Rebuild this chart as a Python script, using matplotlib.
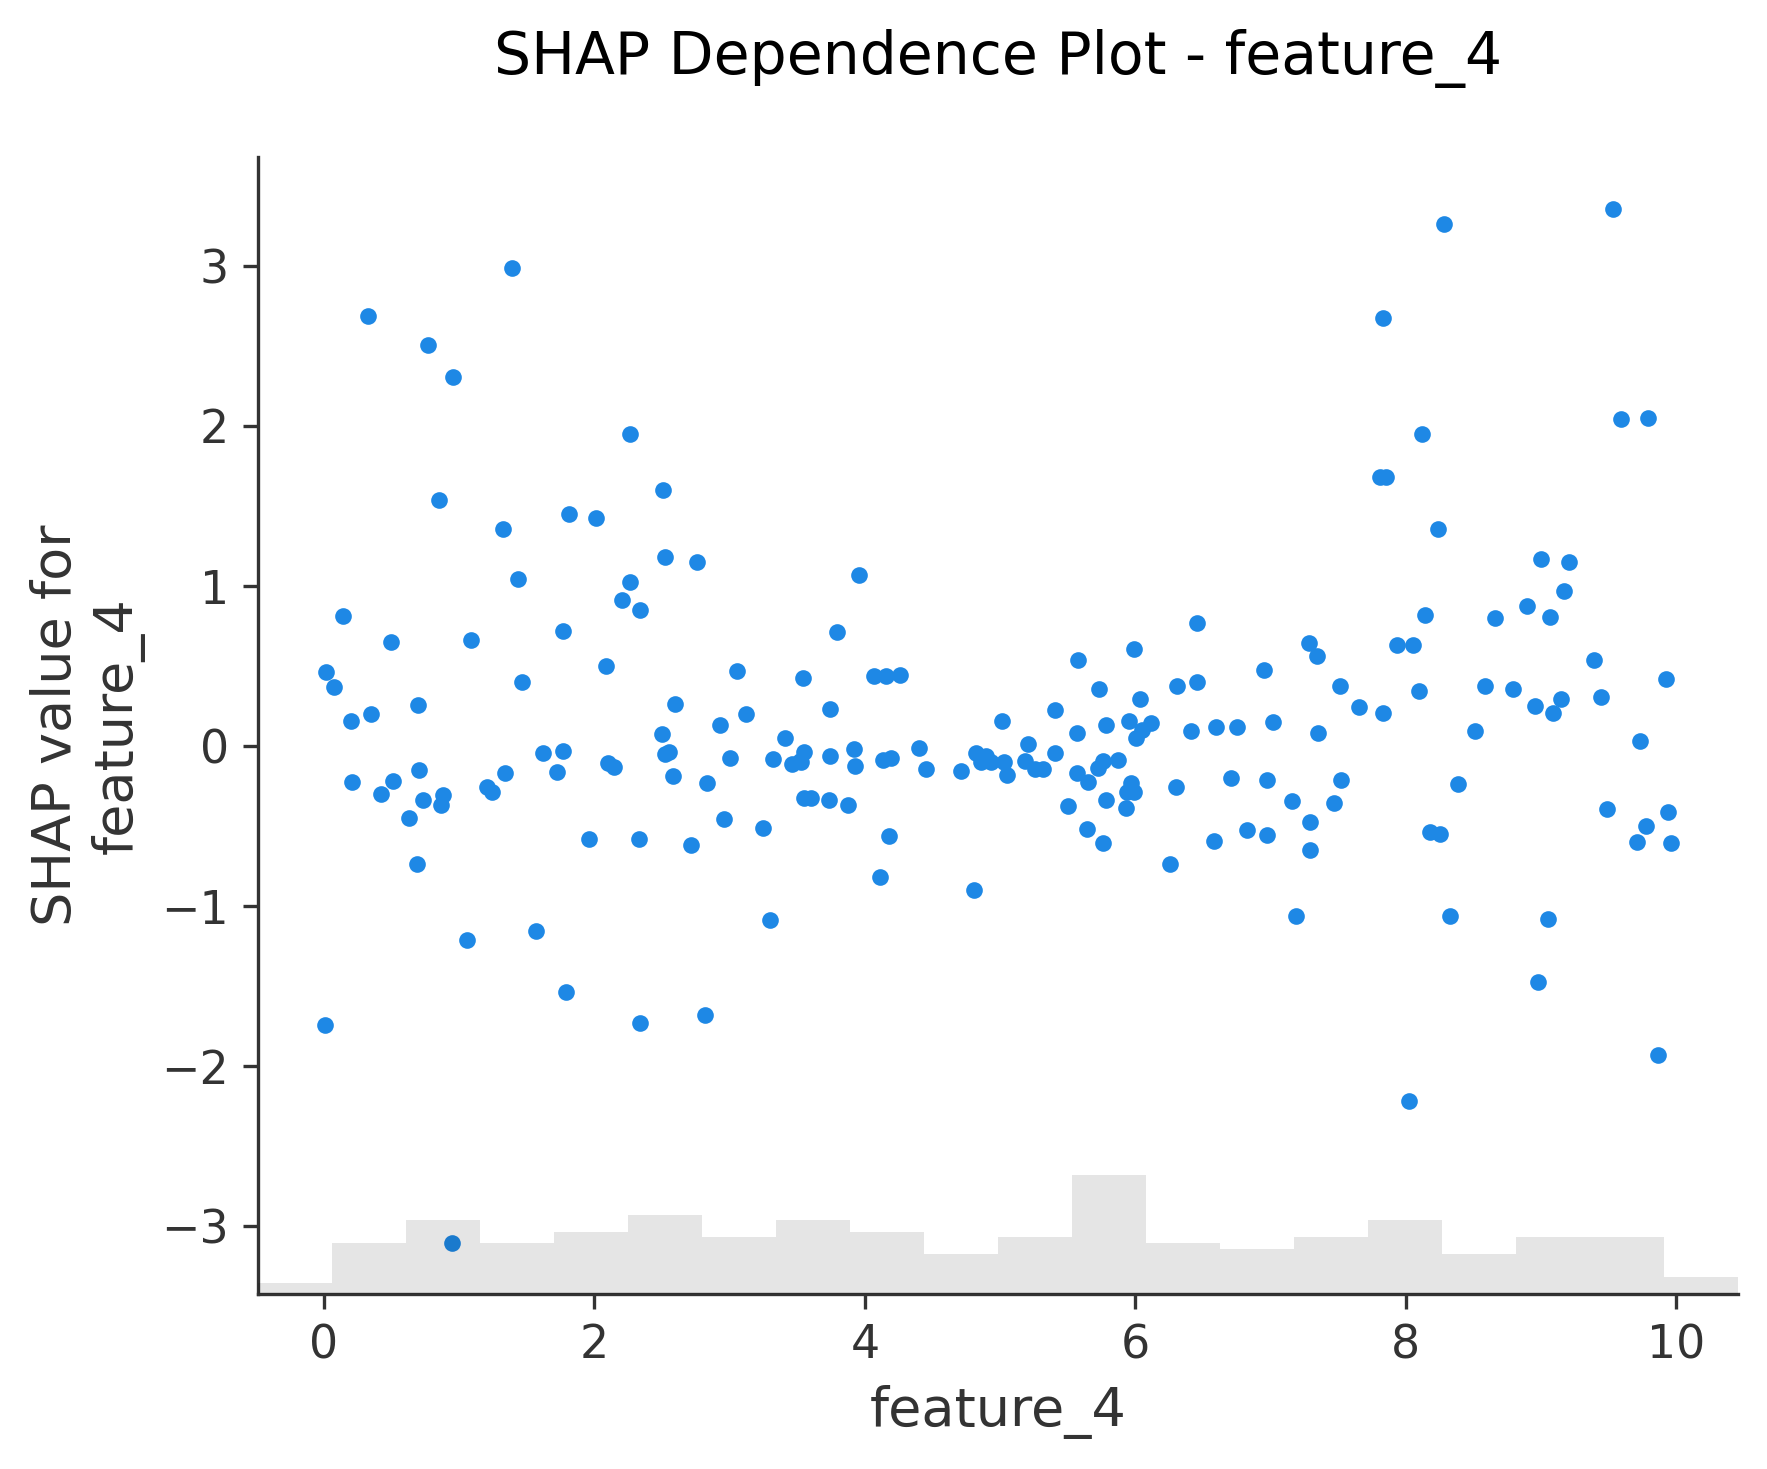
import numpy as np
import matplotlib
matplotlib.use("Agg")
import matplotlib.pyplot as plt

feature_name = "feature_4"

feature_values = [
    0.010, 0.017, 0.075, 0.143, 0.202, 0.209, 0.328, 0.350, 0.424, 0.498,
    0.513, 0.630, 0.690, 0.698, 0.705, 0.735, 0.772, 0.853, 0.868, 0.883,
    0.949, 0.957, 1.060, 1.090, 1.206, 1.240, 1.326, 1.340, 1.393, 1.437,
    1.467, 1.570, 1.617, 1.720, 1.770, 1.770, 1.790, 1.815, 1.961, 2.014,
    2.088, 2.103, 2.143, 2.207, 2.266, 2.266, 2.332, 2.340, 2.340, 2.498,
    2.510, 2.520, 2.525, 2.554, 2.584, 2.598, 2.717, 2.761, 2.815, 2.835,
    2.929, 2.961, 3.000, 3.057, 3.124, 3.250, 3.298, 3.323, 3.412, 3.459,
    3.520, 3.526, 3.545, 3.550, 3.553, 3.600, 3.737, 3.745, 3.745, 3.797,
    3.875, 3.920, 3.930, 3.959, 4.068, 4.115, 4.137, 4.159, 4.180, 4.192,
    4.263, 4.403, 4.450, 4.714, 4.810, 4.818, 4.858, 4.895, 4.932, 5.010,
    5.025, 5.054, 5.187, 5.207, 5.254, 5.320, 5.402, 5.409, 5.505, 5.565,
    5.565, 5.579, 5.639, 5.646, 5.720, 5.734, 5.757, 5.764, 5.779, 5.779,
    5.873, 5.934, 5.936, 5.956, 5.964, 5.986, 5.993, 6.006, 6.036, 6.048,
    6.112, 6.253, 6.297, 6.311, 6.408, 6.452, 6.452, 6.578, 6.593, 6.704,
    6.748, 6.822, 6.948, 6.970, 6.970, 7.015, 7.160, 7.190, 7.280, 7.288,
    7.288, 7.339, 7.347, 7.465, 7.510, 7.517, 7.650, 7.806, 7.828, 7.828,
    7.855, 7.931, 8.020, 8.050, 8.094, 8.116, 8.138, 8.176, 8.234, 8.250,
    8.280, 8.323, 8.382, 8.508, 8.582, 8.656, 8.790, 8.893, 8.957, 8.974,
    8.996, 9.048, 9.063, 9.085, 9.144, 9.167, 9.204, 9.388, 9.440, 9.484,
    9.529, 9.588, 9.706, 9.728, 9.773, 9.788, 9.862, 9.925, 9.936, 9.958,
]

shap_values = [
    -1.744, 0.463, 0.369, 0.813, 0.156, -0.225, 2.688, 0.200, -0.300, 0.650,
    -0.219, -0.450, -0.738, 0.256, -0.150, -0.338, 2.506, 1.538, -0.369, -0.303,
    -3.100, 2.306, -1.213, 0.663, -0.253, -0.288, 1.356, -0.169, 2.988, 1.044,
    0.400, -1.156, -0.044, -0.163, 0.719, -0.031, -1.538, 1.450, -0.581, 1.425,
    0.500, -0.106, -0.131, 0.913, 1.950, 1.025, -0.581, 0.850, -1.731, 0.075,
    1.600, -0.048, 1.181, -0.038, -0.188, 0.263, -0.619, 1.150, -1.681, -0.231,
    0.131, -0.456, -0.075, 0.469, 0.200, -0.513, -1.088, -0.081, 0.050, -0.113,
    -0.090, -0.100, 0.425, -0.325, -0.038, -0.325, -0.338, 0.231, -0.060, 0.713,
    -0.369, -0.019, -0.125, 1.069, 0.438, -0.819, -0.088, 0.438, -0.563, -0.075,
    0.444, -0.013, -0.144, -0.156, -0.900, -0.044, -0.100, -0.063, -0.100, 0.156,
    -0.100, -0.181, -0.094, 0.013, -0.144, -0.144, 0.225, -0.044, -0.375, 0.081,
    -0.169, 0.538, -0.519, -0.225, -0.138, 0.356, -0.606, -0.094, 0.131, -0.338,
    -0.088, -0.388, -0.288, 0.156, -0.231, 0.606, -0.288, 0.050, 0.294, 0.098,
    0.144, -0.738, -0.256, 0.375, 0.094, 0.400, 0.769, -0.594, 0.119, -0.200,
    0.119, -0.525, 0.473, -0.213, -0.556, 0.150, -0.344, -1.063, 0.644, -0.475,
    -0.650, 0.566, 0.081, -0.356, 0.375, -0.213, 0.244, 1.681, 2.675, 0.206,
    1.681, 0.631, -2.219, 0.631, 0.344, 1.950, 0.820, -0.538, 1.356, -0.550,
    3.263, -1.063, -0.238, 0.094, 0.375, 0.800, 0.356, 0.875, 0.253, -1.475,
    1.169, -1.079, 0.805, 0.209, 0.296, 0.969, 1.149, 0.536, 0.308, -0.391,
    3.356, 2.041, -0.598, 0.031, -0.498, 2.048, -1.929, 0.420, -0.409, -0.605,
]

axis_color = "#333333"
dot_color = "#1E88E5"

xv = np.array(feature_values)
yv = np.array(shap_values)

fig = plt.figure(figsize=(1767 / 300, 1469 / 300), dpi=300)
ax = fig.add_axes([0.146, 0.119, 0.8376, 0.774])

ax.scatter(xv, yv, s=16, linewidth=0, color=dot_color)

# histogram of the feature underneath, like shap does
ax2 = ax.twinx()
xlim = ax.get_xlim()
ax2.hist(xv, 20, range=xlim, density=False, facecolor="#000000", alpha=0.1, zorder=-1)
ax2.set_ylim(0, len(xv))
ax2.set_xlim(xlim)
ax2.yaxis.set_ticks([])
for side in ["right", "top", "left", "bottom"]:
    ax2.spines[side].set_visible(False)

ax.set_yticks([-3, -2, -1, 0, 1, 2, 3])
ax.set_xticks([0, 2, 4, 6, 8, 10])
ax.spines["right"].set_visible(False)
ax.spines["top"].set_visible(False)
ax.spines["left"].set_color(axis_color)
ax.spines["bottom"].set_color(axis_color)
ax.tick_params(color=axis_color, labelcolor=axis_color, labelsize=11)

ax.set_xlabel(feature_name, color=axis_color, fontsize=13)
ax.set_ylabel("SHAP value for\n" + feature_name, color=axis_color, fontsize=13)
ax.set_title("SHAP Dependence Plot - " + feature_name, fontsize=14, pad=20)

plt.savefig("out.png", dpi=300)
